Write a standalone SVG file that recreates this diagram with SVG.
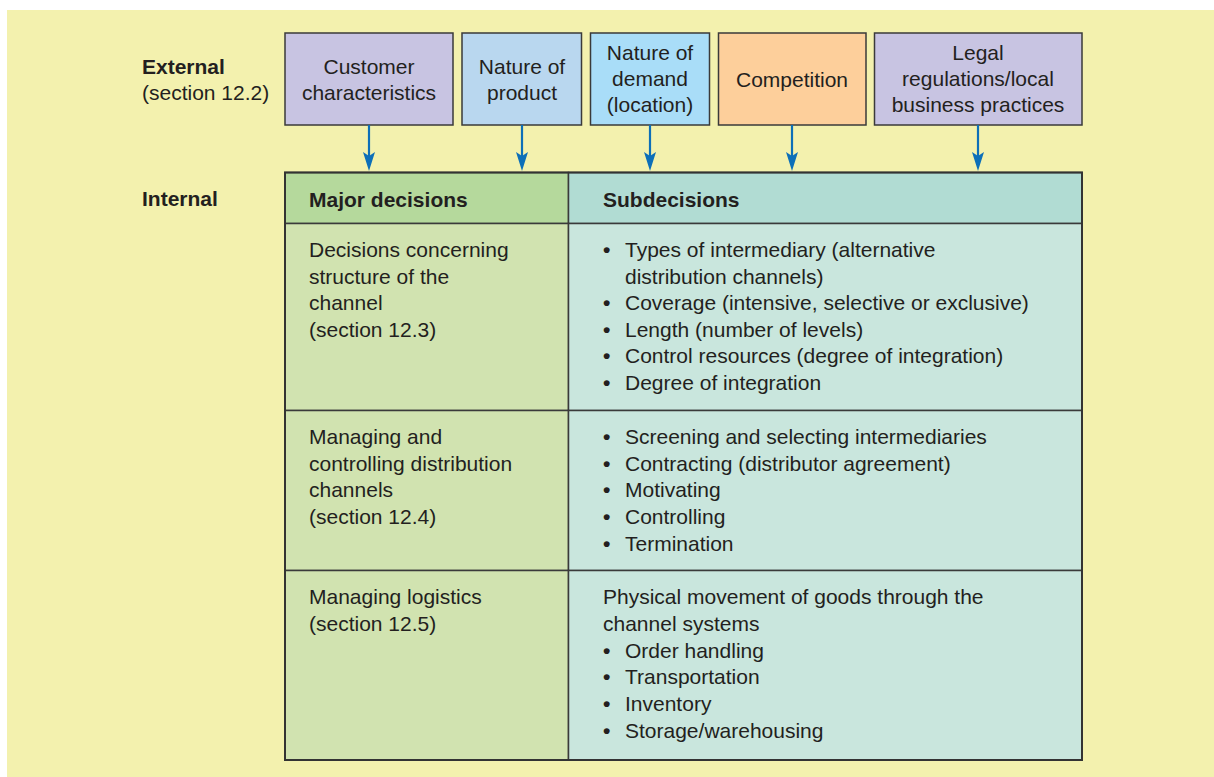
<svg xmlns="http://www.w3.org/2000/svg" width="1214" height="777" viewBox="0 0 1214 777">
<defs>
<style>
text{font-family:"Liberation Sans",Arial,sans-serif;font-size:21px;fill:#231f20}
.b{font-weight:bold}
.c{text-anchor:middle}
.u{font-weight:bold}
.box{stroke:#3a3a3a;stroke-width:1.5}
.cell{stroke:#3a3a3a;stroke-width:1.5}
.conn line{stroke:#0d6fb8;stroke-width:2.2}
.conn path{fill:#0d6fb8}
</style>
</defs>
<rect x="0" y="0" width="1214" height="777" fill="#ffffff"/>
<rect x="7" y="10" width="1207" height="767" fill="#f3f1ae"/>

<g id="labels">
<text x="142" y="74" class="b">External</text>
<text x="142" y="100">(section 12.2)</text>
<text x="142" y="206" class="b">Internal</text>
</g>

<g id="customer">
<rect class="box" x="285" y="33" width="168" height="92" fill="#c8c4e2"/>
<text class="c" x="369" y="74">Customer</text>
<text class="c" x="369" y="100">characteristics</text>
</g>
<g id="product">
<rect class="box" x="462" y="33" width="119.5" height="92" fill="#b9d7ef"/>
<text class="c" x="522" y="74">Nature of</text>
<text class="c" x="522" y="100">product</text>
</g>
<g id="demand">
<rect class="box" x="590.5" y="33" width="119" height="92" fill="#a9ddf8"/>
<text class="c" x="650" y="60">Nature of</text>
<text class="c" x="650" y="86">demand</text>
<text class="c" x="650" y="112">(location)</text>
</g>
<g id="competition">
<rect class="box" x="718.5" y="33" width="147.5" height="92" fill="#fdcf9b"/>
<text class="c" x="792" y="87">Competition</text>
</g>
<g id="legal">
<rect class="box" x="874.5" y="33" width="207.5" height="92" fill="#c8c4e2"/>
<text class="c" x="978" y="60">Legal</text>
<text class="c" x="978" y="86">regulations/local</text>
<text class="c" x="978" y="112">business practices</text>
</g>

<g id="connectors" class="conn">
<line x1="369" y1="125" x2="369" y2="160"/>
<path d="M363,152 L369,171 L375,152 L369,156 Z"/>
<line x1="522" y1="125" x2="522" y2="160"/>
<path d="M516,152 L522,171 L528,152 L522,156 Z"/>
<line x1="650" y1="125" x2="650" y2="160"/>
<path d="M644,152 L650,171 L656,152 L650,156 Z"/>
<line x1="792" y1="125" x2="792" y2="160"/>
<path d="M786,152 L792,171 L798,152 L792,156 Z"/>
<line x1="978" y1="125" x2="978" y2="160"/>
<path d="M972,152 L978,171 L984,152 L978,156 Z"/>
</g>

<g id="table">
<rect class="cell" x="285" y="172.5" width="283.5" height="51" fill="#b5d99c"/>
<rect class="cell" x="568.5" y="172.5" width="513.5" height="51" fill="#b1dcd3"/>
<rect class="cell" x="285" y="223.5" width="283.5" height="187" fill="#d1e3b0"/>
<rect class="cell" x="568.5" y="223.5" width="513.5" height="187" fill="#c9e6dd"/>
<rect class="cell" x="285" y="410.5" width="283.5" height="160" fill="#d1e3b0"/>
<rect class="cell" x="568.5" y="410.5" width="513.5" height="160" fill="#c9e6dd"/>
<rect class="cell" x="285" y="570.5" width="283.5" height="189.5" fill="#d1e3b0"/>
<rect class="cell" x="568.5" y="570.5" width="513.5" height="189.5" fill="#c9e6dd"/>
<rect x="285" y="172.5" width="797" height="587.5" fill="none" stroke="#333" stroke-width="2"/>
</g>

<g id="header">
<text class="b" x="309" y="207">Major decisions</text>
<text class="b" x="603" y="207">Subdecisions</text>
</g>

<g id="row1">
<text x="309" y="257">Decisions concerning</text>
<text x="309" y="284">structure of the</text>
<text x="309" y="310">channel</text>
<text x="309" y="337">(section 12.3)</text>
<text x="603" y="257"><tspan class="u">•</tspan><tspan x="625">Types of intermediary (alternative</tspan></text>
<text x="625" y="284">distribution channels)</text>
<text x="603" y="310"><tspan class="u">•</tspan><tspan x="625">Coverage (intensive, selective or exclusive)</tspan></text>
<text x="603" y="337"><tspan class="u">•</tspan><tspan x="625">Length (number of levels)</tspan></text>
<text x="603" y="363"><tspan class="u">•</tspan><tspan x="625">Control resources (degree of integration)</tspan></text>
<text x="603" y="390"><tspan class="u">•</tspan><tspan x="625">Degree of integration</tspan></text>
</g>

<g id="row2">
<text x="309" y="444">Managing and</text>
<text x="309" y="471">controlling distribution</text>
<text x="309" y="497">channels</text>
<text x="309" y="524">(section 12.4)</text>
<text x="603" y="444"><tspan class="u">•</tspan><tspan x="625">Screening and selecting intermediaries</tspan></text>
<text x="603" y="471"><tspan class="u">•</tspan><tspan x="625">Contracting (distributor agreement)</tspan></text>
<text x="603" y="497"><tspan class="u">•</tspan><tspan x="625">Motivating</tspan></text>
<text x="603" y="524"><tspan class="u">•</tspan><tspan x="625">Controlling</tspan></text>
<text x="603" y="551"><tspan class="u">•</tspan><tspan x="625">Termination</tspan></text>
</g>

<g id="row3">
<text x="309" y="604">Managing logistics</text>
<text x="309" y="631">(section 12.5)</text>
<text x="603" y="604">Physical movement of goods through the</text>
<text x="603" y="631">channel systems</text>
<text x="603" y="658"><tspan class="u">•</tspan><tspan x="625">Order handling</tspan></text>
<text x="603" y="684"><tspan class="u">•</tspan><tspan x="625">Transportation</tspan></text>
<text x="603" y="711"><tspan class="u">•</tspan><tspan x="625">Inventory</tspan></text>
<text x="603" y="738"><tspan class="u">•</tspan><tspan x="625">Storage/warehousing</tspan></text>
</g>
</svg>
